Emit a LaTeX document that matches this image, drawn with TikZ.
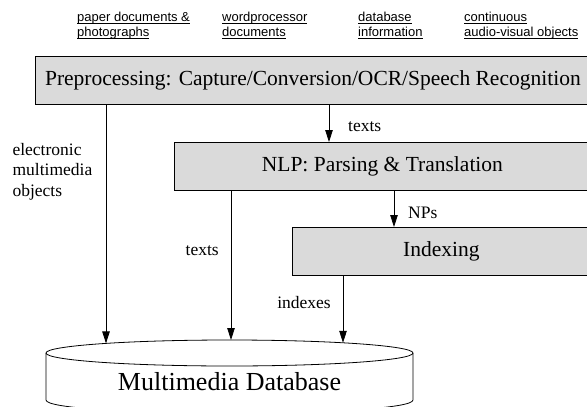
\documentclass[tikz,border=0pt]{standalone}
\usepackage{fontspec}
\setmainfont{Liberation Serif}
\setsansfont{Liberation Sans}
\usetikzlibrary{arrows.meta}
\definecolor{BoxGray}{rgb}{.855,.855,.855}
\newcommand{\ulabel}[1]{{\setbox0\hbox{#1}\rlap{\rule[-2pt]{\wd0}{.7pt}}\box0}}

\begin{document}
\begin{tikzpicture}[
  x=1pt, y=-1pt,
  >={Triangle[length=12pt,width=7.5pt]},
  stage/.style = {draw,fill=BoxGray,line width=.8pt,anchor=north west,
    minimum height=48pt,inner sep=0pt,font=\fontsize{21.5}{24}\selectfont},
  source/.style = {anchor=north west,inner sep=0pt,align=left,
    font=\sffamily\fontsize{13}{15}\selectfont},
  flowlabel/.style = {font=\fontsize{17.5}{20.5}\selectfont},
  feed/.style = {->,line width=.8pt}
  ]
  \useasboundingbox (0,0) rectangle (587,407);
  % kinds of input
  \foreach \x/\one/\two [count=\i] in {77/paper documents \&/photographs,
      222/wordprocessor/documents, 358/database/information,
      464/continuous/audio-visual objects}
    \node[source] (src\i) at (\x,12) {\ulabel{\one}\\\ulabel{\two}};
  %
  \node[stage,minimum width=555pt] (pre) at (35,56)
    {Preprocessing: Capture/Conversion/OCR/Speech Recognition};
  \node[stage,minimum width=416pt] (nlp) at (174,142) {NLP: Parsing \& Translation};
  \node[stage,minimum width=298pt] (idx) at (292,227) {Indexing};
  %
  \draw[line width=.8pt] (46,353) -- (46,400)
    .. controls (46,417.3) and (413,417.3) .. (413,400) -- (413,353);
  \draw[line width=.8pt] (229.5,353) ellipse [x radius=183.5, y radius=13];
  \node[font=\fontsize{26}{30}\selectfont] (db) at (229.5,381.5) {Multimedia Database};
  \coordinate (in1) at (106,343.4);
  \coordinate (in2) at (231,340);
  \coordinate (in3) at (343,342.8);
  %
  \draw[feed] (in1 |- pre.south) -- node[flowlabel,left=10pt,pos=.28,align=left]
    {electronic\\multimedia\\objects} (in1);
  \draw[feed] (329,0 |- pre.south) -- node[flowlabel,right=15.5pt,pos=.6] {texts}
    (329,0 |- nlp.north);
  \draw[feed] (394,0 |- nlp.south) -- node[flowlabel,right=10.5pt,pos=.6] {NPs}
    (394,0 |- idx.north);
  \draw[feed] (in2 |- nlp.south) -- node[flowlabel,left=8.5pt,pos=.4] {texts} (in2);
  \draw[feed] (in3 |- idx.south) -- node[flowlabel,left=8.5pt,pos=.4] {indexes} (in3);
\end{tikzpicture}
\end{document}
